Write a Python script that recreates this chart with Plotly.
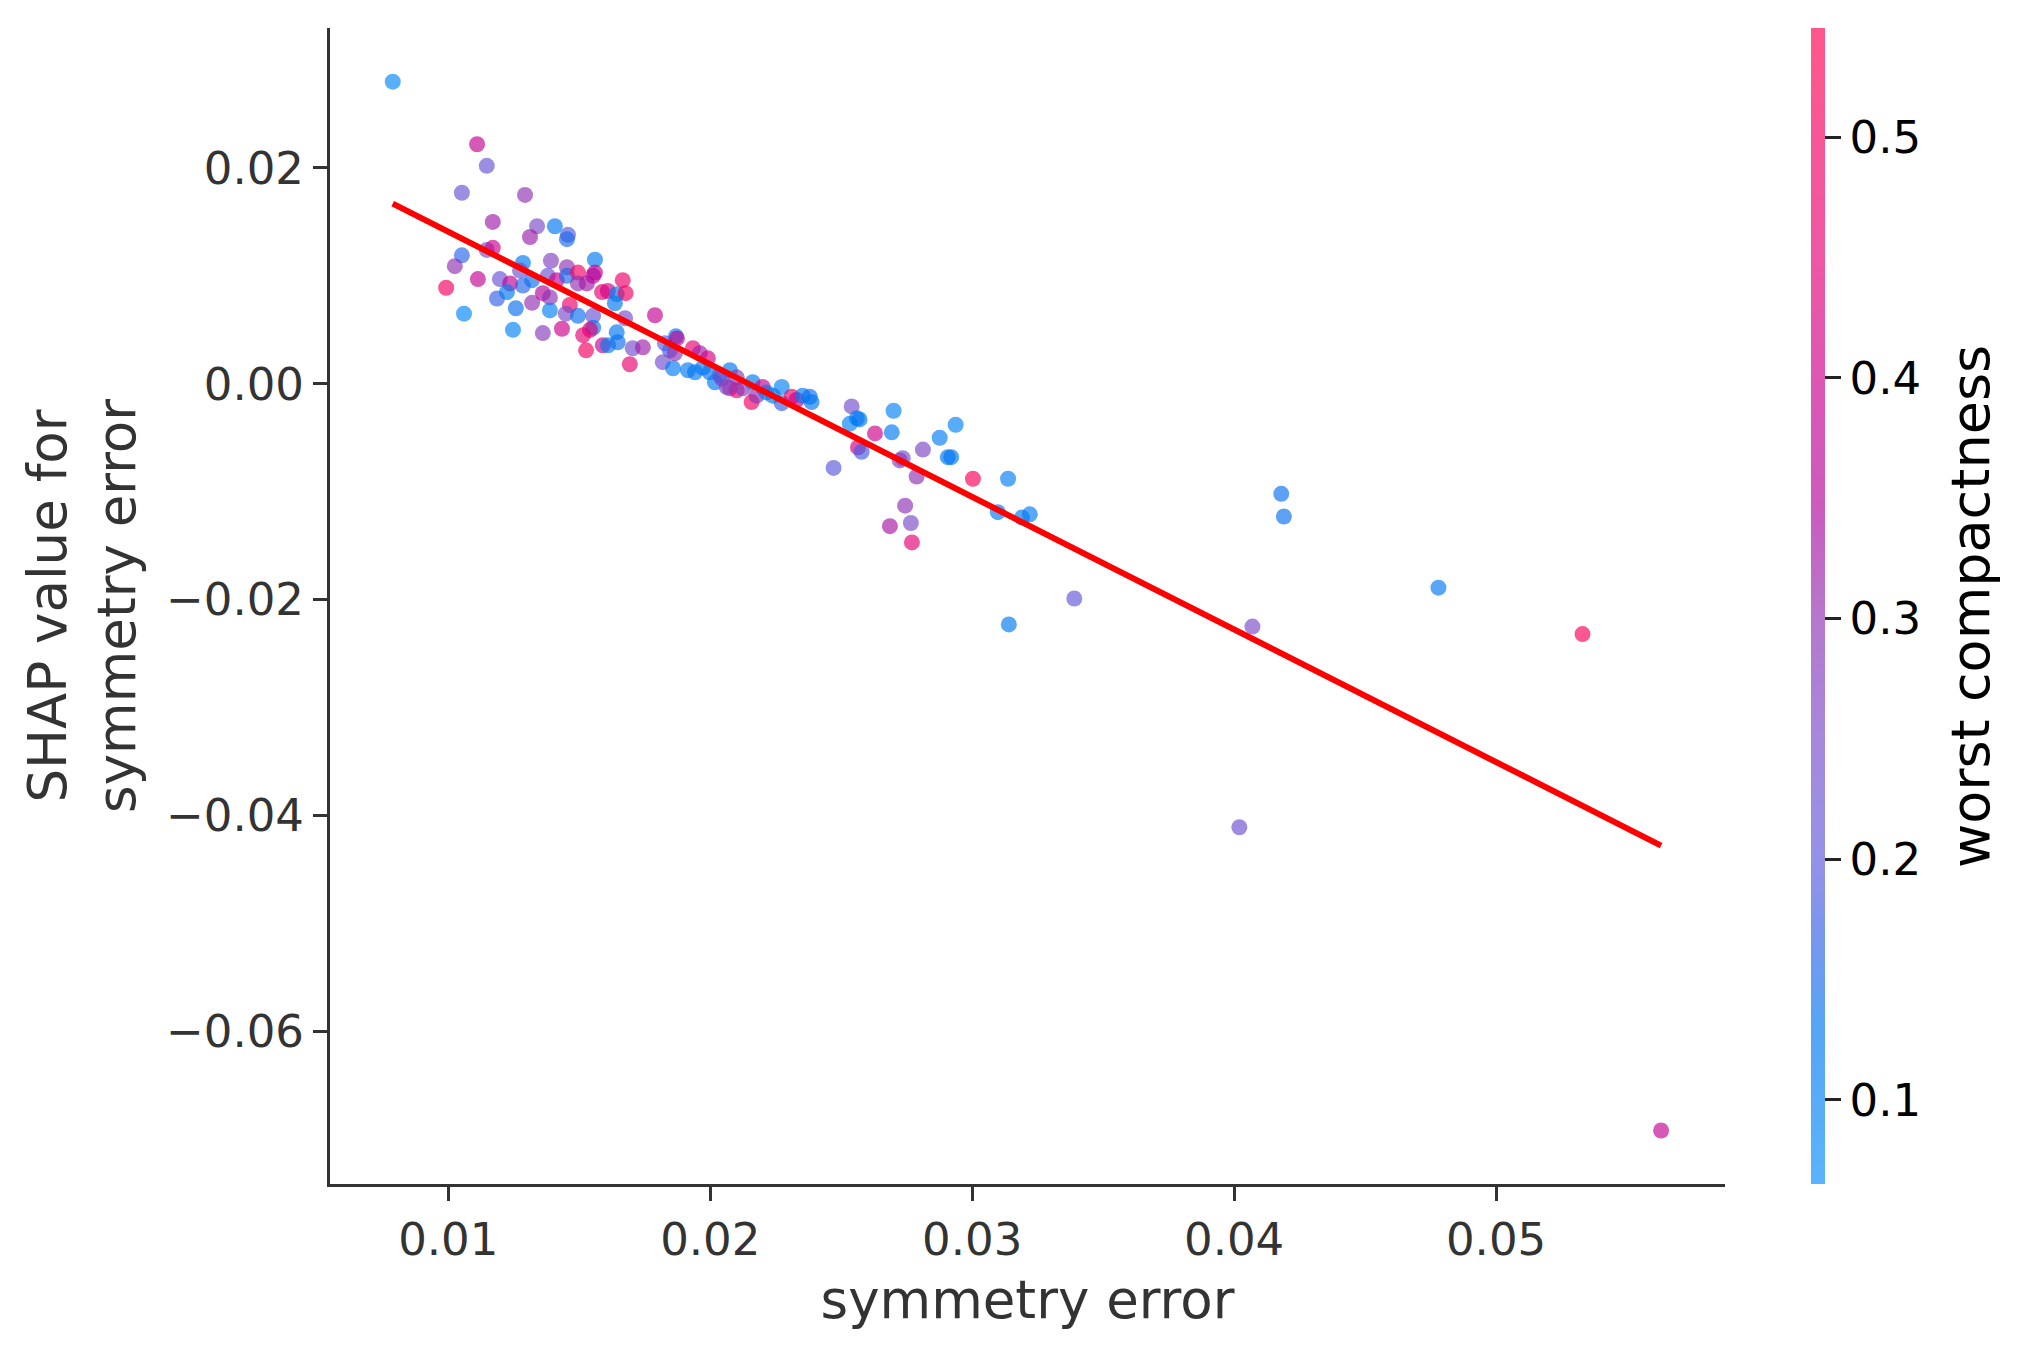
import plotly.graph_objects as go


# ── Data ──────────────────────────────────────────────────────────────────────

sym_error = [
    0.00788, 0.0563, 0.0533, 0.0478, 0.0418, 0.0419, 0.0407, 0.0402, 0.0339, 0.0314,
    0.0111, 0.01147, 0.01052, 0.01293, 0.0117, 0.01339, 0.01407, 0.01457, 0.01453, 0.01312,
    0.01147, 0.0117, 0.01052, 0.01025, 0.00992, 0.0106, 0.01113, 0.01197, 0.01236, 0.01186,
    0.01224, 0.01258, 0.01247, 0.01285, 0.01274, 0.01285, 0.0132, 0.0132, 0.01361, 0.01388,
    0.01392, 0.01388, 0.01361, 0.0138, 0.01414, 0.01453, 0.01453, 0.01495, 0.01495, 0.01529,
    0.0156, 0.0156, 0.01553, 0.01464, 0.01449, 0.01495, 0.01553, 0.01553, 0.01541, 0.01515,
    0.01526, 0.01434, 0.01587, 0.01609, 0.01643, 0.01666, 0.01677,
    0.01789, 0.01636, 0.01675, 0.01643, 0.0159, 0.0161, 0.01647, 0.01704, 0.01743, 0.01693,
    0.01827, 0.01869, 0.01873, 0.01846, 0.01819, 0.01858, 0.01865, 0.01934, 0.0196, 0.01991,
    0.01915, 0.01942, 0.01998, 0.02018, 0.02075, 0.02101, 0.02044, 0.02075, 0.02101, 0.02124,
    0.02162, 0.0220, 0.02158, 0.02177, 0.02215, 0.02273, 0.02273, 0.02239, 0.02311, 0.0233,
    0.02353, 0.0238, 0.02387, 0.0254, 0.02533, 0.0256, 0.0257, 0.02471, 0.0270, 0.02693,
    0.02629, 0.02564, 0.02578, 0.02735, 0.02724, 0.02812, 0.02788, 0.02876, 0.02937, 0.02907,
    0.0292, 0.03003, 0.03137, 0.03098, 0.0319, 0.0322, 0.02744, 0.02686, 0.02766, 0.0277,
    0.02037, 0.02063, 0.01972,
]

shap_value = [
    0.0280, -0.0692, -0.0232, -0.0189, -0.0102, -0.0123, -0.0225, -0.0411, -0.0199, -0.0223,
    0.0222, 0.0202, 0.0177, 0.0175, 0.0150, 0.0146, 0.0146, 0.0138, 0.0134, 0.0136,
    0.0124, 0.0126, 0.0119, 0.0109, 0.0089, 0.0065, 0.0097, 0.0097, 0.0093, 0.0079,
    0.0085, 0.0070, 0.0050, 0.0112, 0.0105, 0.0091, 0.0075, 0.0096, 0.0084, 0.0080,
    0.0114, 0.0068, 0.0047, 0.0100, 0.0096, 0.0108, 0.0100, 0.0103, 0.0093, 0.0093,
    0.0115, 0.0103, 0.0100, 0.0073, 0.0065, 0.0063, 0.0063, 0.0052, 0.0050, 0.0045,
    0.0031, 0.0051, 0.0085, 0.0086, 0.0083, 0.0096, 0.0084,
    0.00635, 0.00746, 0.00607, 0.00477, 0.00357, 0.00357, 0.00385, 0.00329, 0.00338, 0.00181,
    0.00375, 0.0044, 0.0042, 0.0031, 0.0020, 0.00144, 0.00283, 0.00329, 0.00283, 0.00236,
    0.00125, 0.00107, 0.00107, 0.00014, 0.00125, 0.0006, 0.0005, -0.00042, -0.0006, -0.00042,
    0.00014, -0.0003, -0.0017, -0.0011, -0.0008, -0.0003, -0.0018, -0.0011, -0.0012, -0.0015,
    -0.0011, -0.0012, -0.0017, -0.0021, -0.0037, -0.0032, -0.0033, -0.0078, -0.0025, -0.0045,
    -0.0046, -0.0059, -0.0063, -0.0069, -0.0071, -0.0061, -0.0086, -0.0050, -0.0038, -0.0068,
    -0.0068, -0.0088, -0.0088, -0.0119, -0.0124, -0.0121, -0.0113, -0.0132, -0.0129, -0.0147,
    0.0008, -0.0003, 0.0015,
]

worst_compactness = [
    0.08, 0.38, 0.52, 0.12, 0.14, 0.14, 0.25, 0.23, 0.21, 0.12,
    0.38, 0.22, 0.22, 0.30, 0.32, 0.25, 0.13, 0.20, 0.15, 0.32,
    0.25, 0.40, 0.16, 0.30, 0.50, 0.08, 0.38, 0.22, 0.38, 0.17,
    0.12, 0.14, 0.10, 0.12, 0.22, 0.16, 0.30, 0.14, 0.35, 0.30,
    0.27, 0.10, 0.28, 0.22, 0.40, 0.30, 0.15, 0.50, 0.30, 0.33,
    0.12, 0.38, 0.35, 0.48, 0.25, 0.14, 0.22, 0.13, 0.45, 0.45,
    0.50, 0.40, 0.45, 0.42, 0.12, 0.48, 0.50,
    0.38, 0.13, 0.24, 0.13, 0.40, 0.12, 0.14, 0.24, 0.32, 0.46,
    0.20, 0.12, 0.38, 0.18, 0.24, 0.11, 0.30, 0.46, 0.32, 0.42,
    0.12, 0.12, 0.14, 0.12, 0.13, 0.28, 0.30, 0.30, 0.45, 0.28,
    0.12, 0.40, 0.50, 0.30, 0.12, 0.10, 0.17, 0.13, 0.48, 0.38,
    0.12, 0.14, 0.13, 0.24, 0.10, 0.12, 0.13, 0.20, 0.10, 0.12,
    0.40, 0.42, 0.18, 0.24, 0.28, 0.26, 0.30, 0.11, 0.10, 0.13,
    0.13, 0.52, 0.11, 0.12, 0.13, 0.11, 0.30, 0.33, 0.25, 0.45,
    0.18, 0.28, 0.12,
]

# fitted trend line end points
fit_x = [0.00788, 0.0563]
fit_y = [0.0167, -0.0428]

color_min, color_max = 0.065, 0.5454
cbar_ticks = [0.1, 0.2, 0.3, 0.4, 0.5]
x_ticks = [0.01, 0.02, 0.03, 0.04, 0.05]
y_ticks = [0.02, 0.00, -0.02, -0.04, -0.06]


# ── Colour scale (shap red_blue, drawn semi-transparent) ──────────────────────

ALPHA = 0.66
SCALE_STOPS = [
    (0.00, (4, 140, 250)),
    (0.14, (0, 118, 240)),
    (0.22, (55, 95, 229)),
    (0.28, (93, 90, 220)),
    (0.385, (121, 75, 201)),
    (0.49, (143, 50, 178)),
    (0.59, (178, 5, 155)),
    (0.70, (204, 0, 140)),
    (0.80, (229, 0, 117)),
    (1.00, (255, 0, 80)),
]
colorscale = [[s, f"rgba({r},{g},{b},{ALPHA})"] for s, (r, g, b) in SCALE_STOPS]

FONT = "DejaVu Sans"
AXIS_GREY = "#333333"


# ── Figure ────────────────────────────────────────────────────────────────────

fig = go.Figure()

fig.add_trace(go.Scatter(
    x=sym_error, y=shap_value, mode="markers",
    marker=dict(
        size=16, color=worst_compactness, colorscale=colorscale,
        cmin=color_min, cmax=color_max, line=dict(width=0),
        showscale=True,
        colorbar=dict(
            x=1.0616, xanchor="left", xpad=0, y=0.5, yanchor="middle", ypad=0,
            len=1.0, lenmode="fraction", thickness=14, outlinewidth=0,
            tickvals=cbar_ticks, ticktext=[f"{v:.1f}" for v in cbar_ticks],
            ticks="outside", ticklen=16, tickwidth=3, tickcolor="#222222",
            tickfont=dict(family=FONT, size=45, color="black"),
        ),
    ),
    showlegend=False, hoverinfo="x+y",
))

fig.add_trace(go.Scatter(
    x=fit_x, y=fit_y, mode="lines",
    line=dict(color="#ff0000", width=6),
    showlegend=False, hoverinfo="skip",
))

# colour bar label, placed by hand to sit where matplotlib puts it
fig.add_annotation(
    text="worst compactness", textangle=-90,
    xref="paper", yref="paper", x=1.1756, y=0.5,
    xanchor="center", yanchor="middle", showarrow=False,
    font=dict(family=FONT, size=54, color="black"),
)

axis_common = dict(
    showgrid=False, zeroline=False, showline=True,
    linecolor=AXIS_GREY, linewidth=3, mirror=False,
    ticks="outside", ticklen=14, tickwidth=3, tickcolor=AXIS_GREY,
    tickfont=dict(family=FONT, size=45, color=AXIS_GREY),
)

fig.update_xaxes(
    range=[0.005485, 0.05874], tickvals=x_ticks,
    ticktext=[f"{v:.2f}" for v in x_ticks],
    title=dict(text="symmetry error", standoff=16,
               font=dict(family=FONT, size=53, color=AXIS_GREY)),
    **axis_common,
)
fig.update_yaxes(
    range=[-0.07416, 0.03297], tickvals=y_ticks,
    ticktext=[f"{v:.2f}".replace("-", "\u2212") for v in y_ticks],
    title=dict(text="SHAP value for<br>symmetry error", standoff=14,
               font=dict(family=FONT, size=53, color=AXIS_GREY)),
    **axis_common,
)

# the page body adds an 8px offset, so the figure is a little smaller
fig.update_layout(
    width=2010, height=1341,
    margin=dict(l=322, r=293, t=20, b=165),
    plot_bgcolor="white", paper_bgcolor="white",
    font=dict(family=FONT, color=AXIS_GREY),
)

fig.write_html("out.html")
